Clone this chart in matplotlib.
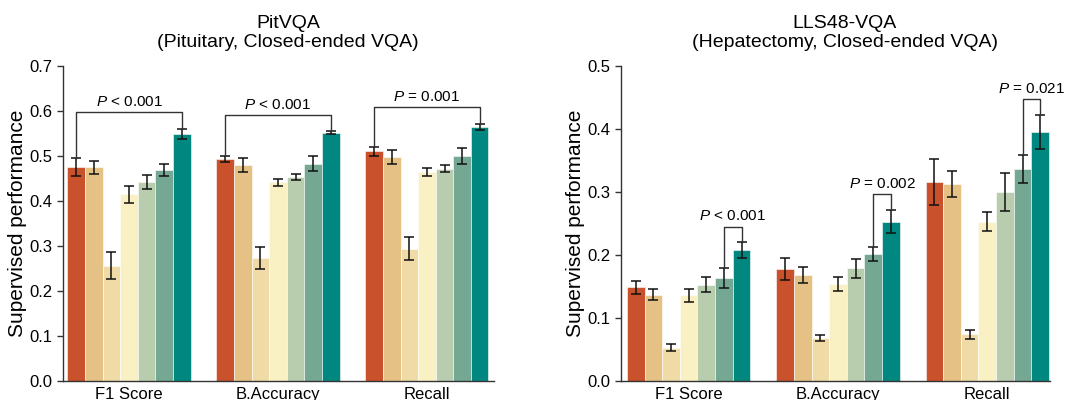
import numpy as np
import matplotlib
matplotlib.use('Agg')
from matplotlib import pyplot as plt
from matplotlib.ticker import FormatStrFormatter

plt.rcParams['font.family'] = ['Liberation Sans', 'DejaVu Sans']
plt.rcParams['mathtext.fontset'] = 'custom'
plt.rcParams['mathtext.rm'] = 'Liberation Sans'
plt.rcParams['mathtext.it'] = 'Liberation Sans:italic'

# Данные

metrics = ['F1 Score', 'B.Accuracy', 'Recall']
colors = ['#C9512B', '#E5C185', '#F0DBA6', '#F9F0C4', '#B7CDAE', '#74A893', '#00877F']

# PitVQA: строки - метрики, столбцы - модели
pit_mean = [[0.475, 0.475, 0.256, 0.415, 0.442, 0.469, 0.549],
            [0.494, 0.480, 0.273, 0.442, 0.454, 0.483, 0.552],
            [0.511, 0.498, 0.294, 0.464, 0.472, 0.500, 0.565]]
pit_err = [[0.020, 0.014, 0.030, 0.019, 0.016, 0.014, 0.011],
           [0.007, 0.016, 0.024, 0.008, 0.007, 0.016, 0.004],
           [0.010, 0.015, 0.025, 0.009, 0.008, 0.018, 0.007]]
pit_pvals = ['P < 0.001', 'P < 0.001', 'P = 0.001']
pit_pairs = [(0, 6), (0, 6), (0, 6)]
pit_bracket = [0.597, 0.591, 0.608]

# LLS48-VQA
lls_mean = [[0.1485, 0.137, 0.053, 0.136, 0.153, 0.164, 0.208],
            [0.178, 0.168, 0.068, 0.154, 0.179, 0.201, 0.253],
            [0.316, 0.313, 0.074, 0.253, 0.300, 0.336, 0.395]]
lls_err = [[0.010, 0.009, 0.005, 0.010, 0.012, 0.016, 0.012],
           [0.017, 0.013, 0.005, 0.011, 0.015, 0.011, 0.018],
           [0.036, 0.021, 0.007, 0.015, 0.030, 0.022, 0.027]]
lls_pvals = ['P < 0.001', 'P = 0.002', 'P = 0.021']
lls_pairs = [(5, 6), (5, 6), (5, 6)]
lls_bracket = [0.245, 0.297, 0.447]


def p_label(s):
    return r'$\it{P}$' + s[1:]


def draw(ax, mean, err, pvals, pairs, bracket, ymax, xlim):
    w = 0.118
    x = np.arange(len(metrics))
    for i in range(len(colors)):
        m = [row[i] for row in mean]
        e = [row[i] for row in err]
        ax.bar(x + (i - 3) * w, m, w, color=colors[i], edgecolor='white', linewidth=0.4,
               yerr=e, error_kw=dict(ecolor='#111111', elinewidth=1.1, capsize=3.5, capthick=1.1))

    # скобки со значениями p
    for g in range(len(metrics)):
        a, b = pairs[g]
        xa = g + (a - 3) * w
        xb = g + (b - 3) * w
        ya = mean[g][a] + err[g][a]
        yb = mean[g][b] + err[g][b]
        top = bracket[g]
        ax.plot([xa, xa, xb, xb], [ya, top, top, yb], color='#333333', lw=1.0, clip_on=False)
        ax.text((xa + xb) / 2, top + ymax * 0.01, p_label(pvals[g]), ha='center', va='bottom',
                fontsize=11, clip_on=False)

    ax.set_xticks(x)
    ax.set_xticklabels(metrics, fontsize=12)
    ax.tick_params(axis='x', length=0, pad=4)
    ax.tick_params(axis='y', labelsize=12, length=4, width=1, color='#333333')
    ax.set_ylim(0, ymax)
    ax.set_xlim(*xlim)
    ax.yaxis.set_major_formatter(FormatStrFormatter('%.1f'))
    ax.set_ylabel('Supervised performance', fontsize=15, labelpad=2)
    for s in ['top', 'right']:
        ax.spines[s].set_visible(False)
    for s in ['left', 'bottom']:
        ax.spines[s].set_color('#333333')
        ax.spines[s].set_linewidth(1.0)


fig = plt.figure(figsize=(10.77, 4.0), dpi=100)

ax1 = fig.add_axes([63 / 1077, 19 / 400, 431 / 1077, 315 / 400])
draw(ax1, pit_mean, pit_err, pit_pvals, pit_pairs, pit_bracket, 0.7, (-0.443, 2.45))
ax1.set_yticks(np.arange(0, 0.71, 0.1))

ax2 = fig.add_axes([621 / 1077, 19 / 400, 429 / 1077, 315 / 400])
draw(ax2, lls_mean, lls_err, lls_pvals, lls_pairs, lls_bracket, 0.5, (-0.453, 2.42))
ax2.set_yticks(np.arange(0, 0.51, 0.1))

fig.text(288 / 1077, 1 - 33 / 400, 'PitVQA\n(Pituitary, Closed-ended VQA)',
         ha='center', va='center', fontsize=14, linespacing=1.2)
fig.text(845 / 1077, 1 - 33 / 400, 'LLS48-VQA\n(Hepatectomy, Closed-ended VQA)',
         ha='center', va='center', fontsize=14, linespacing=1.2)

fig.savefig('out.png', dpi=100)
